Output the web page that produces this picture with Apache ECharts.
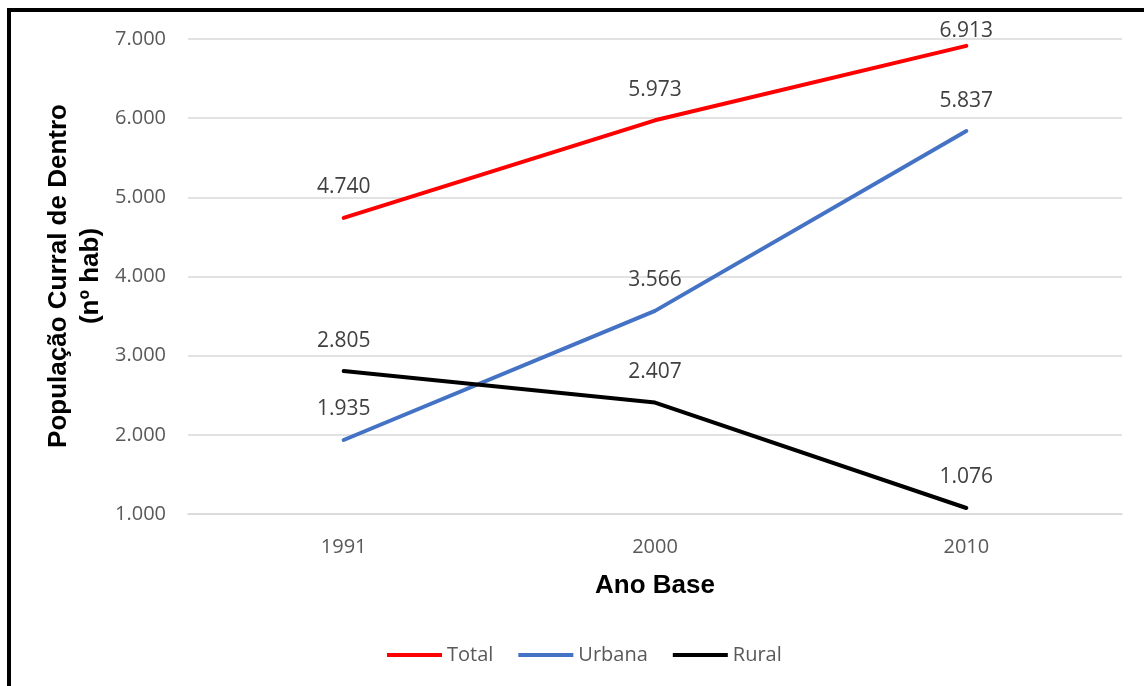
<!DOCTYPE html>
<html>
<head>
<meta charset="utf-8">
<script src="https://cdn.jsdelivr.net/npm/echarts@6/dist/echarts.min.js"></script>
<style>
  html, body { margin: 0; padding: 0; background: #fff; }
  #chart { width: 1144px; height: 686px; }
</style>
</head>
<body>
<div id="chart"></div>
<script>
// Population of Curral de Dentro by census year
const years = ['1991', '2000', '2010'];
const total = [4740, 5973, 6913];
const urbana = [1935, 3566, 5837];
const rural = [2805, 2407, 1076];
const yTicks = { min: 1000, max: 7000, interval: 1000 };

const fmt = v => {
  const s = String(Math.round(v));
  return s.replace(/\B(?=(\d{3})+(?!\d))/g, '.');
};

const labelFont = '"Open Sans", "Liberation Sans", sans-serif';
const titleFont = '"Liberation Sans", Arial, sans-serif';

// labelDist: per-point distance of the value label above the line
function lineSeries(name, data, color, labelDist) {
  return {
    name: name,
    type: 'line',
    data: data.map((v, i) => ({
      value: v,
      label: { distance: labelDist ? labelDist[i] : 20 }
    })),
    symbol: 'circle',
    symbolSize: 0.1,
    showSymbol: true,
    lineStyle: { color: color, width: 4, cap: 'round', join: 'round' },
    itemStyle: { color: color },
    label: {
      show: true,
      position: 'top',
      distance: 20,
      formatter: p => fmt(p.value),
      color: '#404040',
      fontFamily: labelFont,
      fontSize: 21
    },
    labelLayout: { hideOverlap: false },
    emphasis: { disabled: true },
    animation: false
  };
}

const chart = echarts.init(document.getElementById('chart'), null, { renderer: 'canvas' });
chart.setOption({
  backgroundColor: '#ffffff',
  animation: false,
  grid: { left: 188, right: 22, top: 39, bottom: 172, containLabel: false },
  xAxis: {
    type: 'category',
    data: years,
    boundaryGap: true,
    axisLine: { show: true, lineStyle: { color: '#D9D9D9', width: 1.5 } },
    axisTick: { show: false },
    axisLabel: {
      color: '#595959', fontFamily: labelFont, fontSize: 20, margin: 23
    },
    name: 'Ano Base',
    nameLocation: 'middle',
    nameGap: 59,
    nameTextStyle: { color: '#000', fontFamily: titleFont, fontWeight: 'bold', fontSize: 26 }
  },
  yAxis: {
    type: 'value',
    min: yTicks.min,
    max: yTicks.max,
    interval: yTicks.interval,
    axisLine: { show: false },
    axisTick: { show: false },
    splitLine: { lineStyle: { color: '#D9D9D9', width: 1.5 } },
    axisLabel: {
      color: '#595959', fontFamily: labelFont, fontSize: 20, margin: 22,
      formatter: v => fmt(v)
    }
  },
  legend: {
    bottom: 16,
    left: 382,
    itemWidth: 55,
    itemHeight: 14,
    itemGap: 25,
    icon: 'path://M0,6 L55,6 L55,10 L0,10 Z',
    textStyle: { color: '#595959', fontFamily: labelFont, fontSize: 20, padding: [0, 0, 0, 0] },
    data: ['Total', 'Urbana', 'Rural']
  },
  graphic: [
    {
      type: 'text',
      x: 75, y: 276,
      rotation: Math.PI / 2,
      style: {
        text: 'População Curral de Dentro\n(nº hab)',
        fill: '#000',
        font: 'bold 26px ' + titleFont,
        align: 'center',
        verticalAlign: 'middle',
        lineHeight: 32
      }
    },
    // frame lines along top and left edges
    { type: 'rect', shape: { x: 8, y: 8, width: 1136, height: 4 }, style: { fill: '#000' } },
    { type: 'rect', shape: { x: 7, y: 8, width: 4, height: 678 }, style: { fill: '#000' } }
  ],
  series: [
    // top value label kept inside the frame
    lineSeries('Total', total, '#FF0000', [20, 20, 4]),
    lineSeries('Urbana', urbana, '#4472C4'),
    lineSeries('Rural', rural, '#000000')
  ]
});
</script>
</body>
</html>
